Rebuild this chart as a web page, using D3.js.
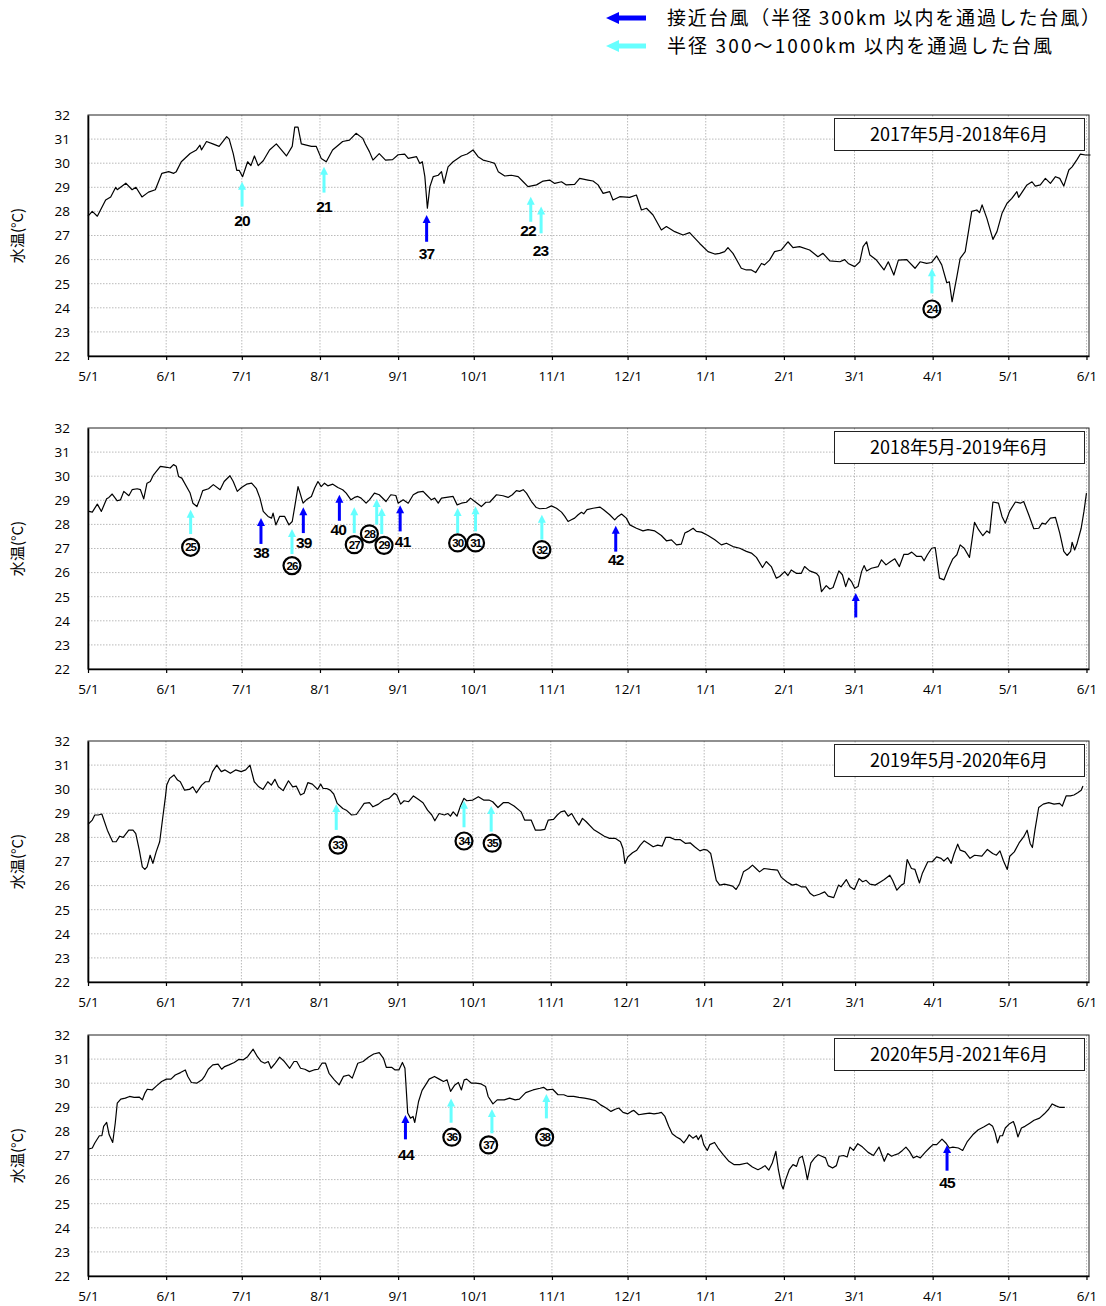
<!DOCTYPE html>
<html><head><meta charset="utf-8">
<script src="https://cdn.jsdelivr.net/npm/d3@7"></script>
<style>body{margin:0;background:#fff}</style>
</head><body>
<svg id="c" width="1106" height="1306" xmlns="http://www.w3.org/2000/svg"></svg>
<script>
// ---------------- data ----------------
const panelTitles = ["2017年5月-2018年6月", "2018年5月-2019年6月", "2019年5月-2020年6月", "2020年5月-2021年6月"];
const startYears = [2017, 2018, 2019, 2020];
const yTicks = [22, 23, 24, 25, 26, 27, 28, 29, 30, 31, 32];
const legendLabels = ["接近台風（半径 300km 以内を通過した台風）", "半径 300〜1000km 以内を通過した台風"];
const yTitle = "水温(°C)";

// day offsets from 5/1 and water temperature (°C)
const days1 = [0,1.7,3.7,7,9,11,11.6,15,17.5,19,21.4,24,26.7,29.3,32,34,35,37,40.5,43,44.4,45,47,49.5,52,55,56,57.6,59,60,61.3,63.3,64.6,66,67.5,69.5,72,74.7,78.7,81,82,83.3,84.6,86.6,88.6,90.5,92.5,94.5,97,101,103.7,106.3,109,110,111.6,113,115.5,118,120.8,123,125.6,127,130.3,131.6,132.6,133.6,134.6,135.6,136.9,138.9,140.2,141.2,142.8,144.8,148.1,150.4,152.7,154.7,156.7,159.3,161.3,162.7,165.3,167.9,170.6,172.6,174.5,177.9,180.5,183.1,185.1,187.8,189.7,193,195,198.3,200.3,202.3,204.3,206.9,208.2,210.9,214.8,217.5,219.5,221.5,224.1,227.4,229.4,232.7,236,238.6,242.6,245.9,248.6,250.5,252.5,253.8,255.8,259.1,261.1,263.1,264.8,267.1,268.3,270.3,272.3,275,277.6,279.6,282.2,286.2,289.5,291.5,294.2,298.2,300.1,301.5,304.1,306.1,307.4,308.8,310.1,312.7,315.7,317.4,319.6,321.4,324.7,328,330,332.6,334.6,336.6,338.6,340.6,341.6,342.7,344.6,345.9,347.9,350.5,352.5,353.6,354.6,356.5,358.9,360.5,362.5,364.5,366.4,368.4,369.1,372.4,374.4,375.7,377.7,379.7,381.7,383.7,385.4,387,389,390.3,392.3,393.6,395.6,397.6];
const temps1 = [27.8,28.0,27.8,28.47,28.6,29.0,28.9,29.17,28.9,29.0,28.6,28.8,28.9,29.58,29.65,29.58,29.65,30.06,30.4,30.55,30.75,30.55,30.9,30.8,30.7,31.1,31.0,30.4,29.7,29.7,29.44,30.06,29.9,30.3,29.9,30.1,30.55,30.8,30.3,30.7,31.5,31.5,30.8,30.75,30.7,30.7,30.2,30.06,30.55,30.9,30.96,31.24,31.03,30.8,30.48,30.13,30.4,30.13,30.15,30.35,30.38,30.2,30.27,29.99,30.06,29.44,28.13,29.03,29.44,29.5,29.65,29.16,29.85,30.06,30.3,30.38,30.55,30.27,30.13,30.06,29.99,29.65,29.47,29.5,29.44,29.23,29.03,29.1,29.26,29.3,29.16,29.23,29.1,29.12,29.37,29.3,29.26,29.1,28.75,28.82,28.47,28.61,28.58,28.68,28.06,28.13,27.85,27.23,27.37,27.16,27.02,27.12,26.67,26.33,26.23,26.26,26.33,26.5,26.26,25.64,25.57,25.57,25.46,25.84,25.78,25.98,26.33,26.4,26.74,26.5,26.54,26.4,26.12,26.26,25.95,25.91,26.0,25.84,25.71,25.91,26.54,26.74,26.19,25.98,25.57,25.91,25.36,25.98,26.0,25.64,25.91,25.84,25.88,26.15,25.78,25.04,25.08,24.25,25.29,26.05,26.33,28.0,28.06,27.95,28.27,27.71,26.84,27.16,27.92,28.34,28.54,28.82,28.58,29.1,29.23,29.05,29.1,29.37,29.16,29.44,29.37,29.05,29.72,29.85,30.16,30.38,30.34,30.34];

const days2 = [0.4,1.7,3.7,5.3,7.4,8.3,9.6,11.6,12.9,14.2,16.2,17.5,19.5,20.8,22.1,23.4,24.7,26,28.7,31.3,32.6,33.9,35,35.9,37.2,40.5,41.6,43.2,44.5,45.5,47.8,49.7,52.4,54,56.3,57.6,59.2,60.9,62.9,64.9,66.8,68.2,69.5,71.4,72.8,73.4,74.5,76,78,79.7,81,82,83.3,83.9,85.3,86.6,88.6,89.9,91.2,92.5,93.8,95.1,97.1,99.1,101,102.4,104.3,105.7,107,108.3,110.3,111.6,113.6,115.5,118.2,120.1,122.1,123,125,127,129,130.9,132.9,134.2,136.2,137.5,138.9,140.2,142.8,144.8,146.4,148.1,150.1,151.7,153.4,156,157.8,159.3,162,164.6,166.6,168.3,169.9,171.2,172.6,173.9,175.9,177.8,179.2,181.8,183.8,185.8,187.8,189.1,190.4,191.7,193,194.4,195.7,196.6,197.9,200.3,203,204.5,206.9,208.9,210.2,211.6,213.5,214.9,217.5,220.1,222.1,224.8,227.4,229.4,231.4,233.4,235.3,236.7,238,240,241.3,243.3,245.9,248.6,251.2,253.2,255.8,258.5,261.1,263.1,265.1,267.5,269,271,273,274.3,276.3,277.6,278.9,280.9,282.9,284.2,286.2,288.9,289.9,290.9,292.8,294.2,295.5,297.8,299.2,300.5,301.7,302.8,304.1,305.4,306.8,307.8,308.8,310.7,313.4,314.7,316.5,318.3,320,321.8,323.6,325.3,326.7,328.7,330.6,331.6,332.9,334.6,336,337.7,339.5,341.3,343,344.6,345.9,347.5,349.6,351.6,353.2,354.9,356.5,357.6,358.9,361.1,362.5,363.8,365.5,367.8,369.8,371.1,373.1,375.1,377.1,378.4,379.7,381.7,383.7,385.4,387,388.3,389.7,390.3,391.3,392.3,393.9,395,396];
const temps2 = [28.54,28.51,28.84,28.54,29.06,29.12,29.26,28.98,29.02,29.37,29.19,29.44,29.48,29.44,29.06,29.71,29.78,30.06,30.41,30.37,30.34,30.48,30.41,29.99,29.92,29.3,28.88,28.74,29.09,29.4,29.48,29.65,29.44,29.78,30.02,29.78,29.37,29.53,29.67,29.71,29.48,29.09,28.54,28.33,28.26,28.47,27.98,28.33,28.33,27.98,28.12,28.74,29.57,29.37,28.88,29.02,29.16,29.51,29.78,29.57,29.71,29.6,29.67,29.53,29.44,29.3,29.02,29.12,29.16,29.09,28.88,29.02,29.3,29.23,28.95,29.23,29.2,28.88,29.02,28.88,29.23,29.34,29.37,29.23,29.02,29.09,28.88,29.09,29.13,29.16,28.81,28.88,28.92,29.09,28.95,28.74,28.92,28.92,29.23,29.19,29.12,29.23,29.4,29.37,29.44,29.3,28.95,28.7,28.65,28.67,28.77,28.67,28.51,28.33,28.12,28.19,28.26,28.4,28.5,28.44,28.61,28.67,28.72,28.61,28.4,28.19,28.33,28.43,28.26,27.98,27.84,27.73,27.78,27.73,27.54,27.32,27.36,27.15,27.18,27.64,27.71,27.84,27.71,27.68,27.54,27.36,27.15,27.22,27.08,27.01,26.88,26.81,26.63,26.21,26.46,26.25,25.77,25.84,26.04,25.88,26.11,25.97,25.97,26.25,26.07,25.97,25.84,25.21,25.46,25.32,25.38,26.07,25.91,25.42,25.77,25.63,25.35,25.42,26.04,26.29,26.07,26.18,26.25,26.53,26.32,26.46,26.57,26.25,26.76,26.76,26.85,26.67,26.67,26.49,26.74,27.01,27.04,25.77,25.7,26.18,26.57,26.74,27.15,27.01,26.63,28.09,27.78,27.53,27.73,27.64,28.93,28.88,28.33,28.05,28.54,28.93,28.88,28.95,28.4,27.82,27.84,28.05,28.01,28.26,28.29,27.64,26.88,26.71,26.88,27.26,26.94,27.22,27.84,28.54,29.3];

const days3 = [0,1.7,2.7,4.1,5.5,7.7,9.8,11.2,12.6,14,16.2,17.9,19,20.4,21.6,22.6,23.5,24.7,25.8,27.1,28.5,29.6,30.8,31.3,32.5,34.2,35.6,36.7,38.4,40.3,41.7,43.1,45.2,46.7,48.1,49.5,51.2,53,54.5,56.6,58.7,60.9,62.7,64.4,66.1,67.9,69.6,71.5,72.9,74.3,75.7,77.6,79.7,81.4,82.8,84.5,85.9,87.4,89.2,91.3,92.5,93.5,94.9,96.3,97.7,99.1,101.3,102.7,104.8,106.7,108.4,109.8,111.9,113.3,115.5,117.6,119.7,121.8,122.8,124.3,125.7,127.5,129.4,131.3,133.2,135,136.7,137.9,139.6,141.7,143.1,144.1,145.2,146.7,148.1,149.5,150.6,153,155.2,157.3,159.4,160.9,163,165.1,167.2,169.4,172.2,173.6,176.2,177.9,180,181.6,183,185.1,186.6,188,189.5,190.9,192.3,193.8,195.2,196.6,198.1,201,203.1,205.3,207.4,209.6,211.7,212.7,213.5,214.6,216.5,218.2,219.6,221.1,222.8,224.7,226.5,228.3,229.7,231.4,233.3,235.4,237.6,239.5,241.2,243.3,244.8,246.2,247.6,248.7,249.8,251.2,253,254.8,256.3,257.7,259.1,260.6,262.7,264.2,265.6,267,268.8,271.4,274.2,275.7,277.8,280,281.7,283.6,285.4,287.2,288.6,290.8,292.9,294.3,296.5,298.4,299.4,301.5,303,304.7,306.6,308,309.4,310.9,313,315.2,316.6,318.8,319.9,321.6,323.4,324.5,325.7,327.4,328.8,330.6,331.7,333.9,335.7,337.4,339.2,340.3,341.8,343.2,344.3,345.8,346.8,348.7,350.7,352.5,355.4,357.6,359.7,361.2,362.6,364,365.5,366.5,368.3,370.2,372,373.4,374.6,375.5,376.5,378,379.8,382,384.1,386.3,387.4,388.9,390.6,392,393.5,394.9,395.6];
const temps3 = [28.54,28.72,28.93,28.93,28.97,28.3,27.82,27.82,28.05,28.0,28.3,28.3,28.16,27.47,26.78,26.67,26.78,27.26,26.92,27.4,27.82,28.72,29.69,30.17,30.45,30.59,30.38,30.31,29.96,29.99,30.1,29.85,30.17,30.31,30.31,30.73,31.0,30.73,30.8,30.66,30.8,30.73,30.8,31.0,30.31,30.1,29.99,30.31,30.17,30.41,30.1,29.94,30.35,30.1,30.13,29.76,29.83,30.27,30.21,29.99,30.21,30.03,30.03,29.96,29.8,29.41,29.2,29.13,28.93,28.95,29.2,29.41,29.44,29.27,29.38,29.55,29.62,29.83,29.76,29.38,29.52,29.48,29.72,29.58,29.44,29.13,28.93,28.69,28.99,28.93,28.99,28.88,29.06,28.88,29.3,29.62,29.52,29.55,29.69,29.55,29.55,29.48,29.24,29.44,29.44,29.3,29.06,28.72,28.72,28.3,28.3,28.33,28.72,28.75,28.93,29.06,29.1,28.88,28.99,28.72,28.51,28.79,28.65,28.33,28.19,28.05,27.96,27.96,27.82,27.54,26.92,27.19,27.36,27.47,27.68,27.86,27.75,27.61,27.68,27.64,28.0,28.0,27.91,27.91,27.75,27.77,27.61,27.44,27.5,27.47,27.33,26.78,26.22,26.02,26.06,26.02,25.98,25.84,26.09,26.57,26.71,26.85,26.71,26.57,26.71,26.67,26.64,26.34,26.16,26.02,26.06,25.95,25.95,25.67,25.57,25.64,25.74,25.56,25.5,26.02,25.95,26.25,25.95,25.84,26.29,26.16,26.22,26.06,26.02,26.16,26.25,26.43,26.22,25.81,26.02,26.09,27.08,26.71,26.67,26.11,26.5,26.99,26.99,27.19,27.13,27.02,27.16,26.92,27.3,27.72,27.47,27.4,27.13,27.26,27.22,27.5,27.33,27.26,27.44,27.02,26.67,27.22,27.4,27.77,28.02,28.3,27.75,27.58,28.3,29.24,29.38,29.44,29.38,29.41,29.3,29.72,29.72,29.76,29.85,29.96,30.13];

const days4 = [0.3,1.7,2.7,4.5,5.5,6.2,7.4,8.4,9.8,10.8,11.6,13,14.8,16.5,18.3,20.4,21.6,22.6,23.5,25.4,27.2,29.2,31.1,32.9,34.6,36.7,38.6,39.6,41,43.1,45.2,46.2,47.7,49.5,51.6,53,54.2,55.9,58,59.9,61.6,63.3,65.5,67.2,68.7,70.1,71.5,72.6,74.3,76,77.9,80,81.7,82.8,84.3,86,87.8,89.6,91.3,92.8,94.2,95.6,97.7,99.6,101.3,103.4,104.8,107,109.1,111.2,113.3,115.5,117.2,118.3,120.4,121.8,123.3,124.7,125.7,126.8,127.9,128.9,129.6,131.1,132.5,133.9,135.3,137.4,139.3,141,142.4,143.8,145.5,146.9,148.1,149.2,150.2,152.1,153.8,155.9,157.7,158.7,160.6,162.3,165.1,167.2,169.4,171.1,173.6,176.5,179.3,180.7,182.1,184.3,186.4,188.7,190.4,192.6,194.7,196.9,199,201.2,203.3,205.5,207.4,209.1,210.5,212.2,214.1,215.5,216.5,218.4,220.5,222.7,224.5,226.3,227.4,228.8,230.3,231.7,233.4,234.9,236.3,237.7,238.4,239.9,241.3,242,243.2,244.2,245.6,246.6,248.5,249.9,252,254.2,256.3,258.5,261.4,263.5,265.7,267.1,268.5,270,271.4,272.8,273.8,275,275.7,276.7,278.1,279.6,281,282.1,283.3,284.3,285.3,286.7,288.2,289.6,291,292.5,293.6,295.3,296.8,297.9,299.6,301.1,302.2,303.6,305.3,307.2,309.4,311.5,313.7,315.8,317.2,318.7,320.1,321.5,323,324.4,325.8,327.3,328.7,330.1,332,333.7,335.1,336.6,338.7,340.2,341.6,343,345.2,346.9,348.8,350.9,353.1,355.2,357.4,358.8,359.8,360.7,361.7,362.7,363.8,365.5,367,367.8,368.8,370.2,371.6,373.5,375.2,377.4,379.3,381,382.4,383.9,385.3,387.4];
const temps4 = [27.27,27.31,27.52,27.82,27.82,28.21,28.37,27.86,27.54,28.34,29.17,29.34,29.38,29.45,29.41,29.42,29.31,29.59,29.75,29.72,29.89,30.07,30.17,30.17,30.34,30.44,30.55,30.28,30.03,30.0,30.14,30.28,30.58,30.76,30.79,30.58,30.69,30.76,30.86,30.99,30.97,31.1,31.41,31.1,30.9,30.83,30.9,30.62,30.83,31.08,30.9,30.62,30.9,30.9,30.62,30.58,30.48,30.55,30.58,30.83,30.83,30.41,30.14,29.93,30.28,30.34,30.21,30.83,30.9,31.08,31.21,31.27,31.03,30.66,30.66,30.55,30.55,30.86,30.62,28.76,28.55,28.62,28.37,29.24,29.7,29.93,30.17,30.28,30.17,30.07,30.14,29.66,29.93,30.03,29.72,30.14,30.17,30.0,30.0,29.97,29.86,29.45,29.14,29.31,29.31,29.38,29.31,29.34,29.61,29.72,29.79,29.83,29.72,29.75,29.52,29.52,29.45,29.45,29.41,29.38,29.34,29.28,29.1,28.97,28.83,28.92,28.97,28.79,28.73,28.83,28.87,28.69,28.73,28.76,28.73,28.76,28.79,28.62,28.21,27.9,27.77,27.68,27.52,27.72,27.86,27.72,27.82,27.66,27.86,27.45,27.21,27.45,27.54,27.31,27.03,26.76,26.62,26.62,26.69,26.52,26.41,26.48,26.58,26.39,26.69,27.17,26.41,25.79,25.61,26.0,26.41,26.62,26.55,26.9,26.97,26.55,26.0,26.69,26.9,27.03,26.97,26.9,26.58,26.48,26.58,26.97,27.0,26.94,27.35,27.21,27.49,27.35,27.13,27.0,27.35,26.76,27.08,26.97,27.03,27.08,27.21,27.35,27.17,26.9,26.97,26.9,27.13,27.31,27.45,27.45,27.68,27.52,27.31,27.35,27.31,27.21,27.59,27.86,28.07,28.18,28.32,28.21,27.93,27.52,27.82,27.82,28.14,28.32,28.41,28.18,27.77,28.14,28.21,28.34,28.46,28.55,28.73,28.92,29.14,29.06,29.0,29.0];

// typhoon marks: day offset, arrow tip & tail temperature, near (blue) or not, label, circled, label position (day, temp)
const typhoons1 = [
  {d:61.1, tip:29.23, tail:28.2, near:false, label:"20", circled:false, ld:61.1, lt:27.62},
  {d:93.6, tip:29.85, tail:28.78, near:false, label:"21", circled:false, ld:93.6, lt:28.22},
  {d:134.3, tip:27.85, tail:26.74, near:true, label:"37", circled:false, ld:134.3, lt:26.26},
  {d:175.6, tip:28.61, tail:27.57, near:false, label:"22", circled:false, ld:174.5, lt:27.19},
  {d:179.7, tip:28.2, tail:27.09, near:false, label:"23", circled:false, ld:179.5, lt:26.37},
  {d:334.7, tip:25.64, tail:24.6, near:false, label:"24", circled:true, ld:334.7, lt:23.95}
];
const typhoons2 = [
  {d:40.7, tip:28.61, tail:27.6, near:false, label:"25", circled:true, ld:40.7, lt:27.05},
  {d:68.6, tip:28.27, tail:27.19, near:true, label:"38", circled:false, ld:68.6, lt:26.84},
  {d:80.9, tip:27.81, tail:26.77, near:false, label:"26", circled:true, ld:80.9, lt:26.29},
  {d:85.4, tip:28.71, tail:27.64, near:true, label:"39", circled:false, ld:85.6, lt:27.25},
  {d:99.7, tip:29.23, tail:28.15, near:true, label:"40", circled:false, ld:99.3, lt:27.78},
  {d:105.6, tip:28.71, tail:27.64, near:false, label:"27", circled:true, ld:105.6, lt:27.16},
  {d:114.5, tip:29.05, tail:27.99, near:false, label:"28", circled:true, ld:111.6, lt:27.61},
  {d:116.5, tip:28.68, tail:27.6, near:false, label:"29", circled:true, ld:117.4, lt:27.13},
  {d:123.8, tip:28.79, tail:27.71, near:true, label:"41", circled:false, ld:124.8, lt:27.29},
  {d:146.6, tip:28.68, tail:27.64, near:false, label:"30", circled:true, ld:146.6, lt:27.23},
  {d:153.7, tip:28.75, tail:27.71, near:false, label:"31", circled:true, ld:153.7, lt:27.23},
  {d:180, tip:28.4, tail:27.37, near:false, label:"32", circled:true, ld:180, lt:26.95},
  {d:209.3, tip:27.94, tail:26.87, near:true, label:"42", circled:false, ld:209.3, lt:26.54},
  {d:304.5, tip:25.15, tail:24.14, near:true, label:"", circled:false, ld:304.5, lt:24}
];
const typhoons3 = [
  {d:98.7, tip:29.39, tail:28.31, near:false, label:"33", circled:true, ld:99.4, lt:27.68},
  {d:149.5, tip:29.52, tail:28.42, near:false, label:"34", circled:true, ld:149.5, lt:27.85},
  {d:160.3, tip:29.3, tail:28.24, near:false, label:"35", circled:true, ld:160.7, lt:27.76}
];
const typhoons4 = [
  {d:125.9, tip:28.68, tail:27.67, near:true, label:"44", circled:false, ld:126.1, lt:27.06},
  {d:144, tip:29.37, tail:28.36, near:false, label:"36", circled:true, ld:144.3, lt:27.76},
  {d:160.2, tip:28.93, tail:27.92, near:false, label:"37", circled:true, ld:158.9, lt:27.44},
  {d:181.8, tip:29.55, tail:28.54, near:false, label:"38", circled:true, ld:181.1, lt:27.76},
  {d:340.7, tip:27.44, tail:26.37, near:true, label:"45", circled:false, ld:340.7, lt:25.87}
];

const allDays = [days1, days2, days3, days4];
const allTemps = [temps1, temps2, temps3, temps4];
const allTyphoons = [typhoons1, typhoons2, typhoons3, typhoons4];

// ---------------- drawing ----------------
const svg = d3.select("#c");
const BLUE = "#0000ff", CYAN = "#66ffff";
const left = 88, right = 1089, ph = 241;
const panelTops = [115, 428, 741, 1035];
const tickFont = "'Open Sans', 'Noto Sans', sans-serif";
const cjkFont = "'Noto Sans CJK JP', sans-serif";
const boldFont = "'Liberation Sans', Arial, sans-serif";

function drawArrow(g, x, yTip, yTail, color, hw, hl, sw) {
  g.append("line").attr("x1", x).attr("x2", x).attr("y1", yTail).attr("y2", yTip + hl - 1)
    .attr("stroke", color).attr("stroke-width", sw);
  g.append("path").attr("d", `M${x},${yTip}L${x - hw},${yTip + hl}L${x + hw},${yTip + hl}Z`).attr("fill", color);
}

// legend
[[BLUE, 18], [CYAN, 46]].forEach(([c, y], i) => {
  const g = svg.append("g");
  g.append("line").attr("x1", 617).attr("x2", 646).attr("y1", y).attr("y2", y).attr("stroke", c).attr("stroke-width", 5);
  g.append("path").attr("d", `M606,${y}L619,${y - 6}L619,${y + 6}Z`).attr("fill", c);
  g.append("text").attr("x", 667).attr("y", y + 7).attr("font-family", cjkFont).attr("font-size", 19)
    .attr("textLength", i === 0 ? 433 : 385).attr("lengthAdjust", "spacing")
    .attr("fill", "#000").text(legendLabels[i]);
});

panelTops.forEach((top, p) => {
  const start = new Date(startYears[p], 4, 1);
  const end = new Date(startYears[p] + 1, 5, 2);
  const x = d3.scaleTime().domain([start, end]).range([left, right]);
  const y = d3.scaleLinear().domain([22, 32]).range([top + ph, top]);
  const dayDate = d => new Date(start.getTime() + d * 864e5);
  const months = d3.timeMonth.range(start, new Date(startYears[p] + 1, 5, 1, 12));
  const g = svg.append("g");

  // grid
  g.append("g").selectAll("line").data(yTicks.slice(1, -1)).join("line")
    .attr("x1", left).attr("x2", right).attr("y1", d => y(d)).attr("y2", d => y(d))
    .attr("stroke", "#a8a8a8").attr("stroke-width", 0.8).attr("stroke-dasharray", "1.5,1.5");
  g.append("g").selectAll("line").data(months.slice(1)).join("line")
    .attr("x1", d => x(d)).attr("x2", d => x(d)).attr("y1", top).attr("y2", top + ph)
    .attr("stroke", "#a8a8a8").attr("stroke-width", 0.8).attr("stroke-dasharray", "1.5,1.5");

  // frame
  g.append("rect").attr("x", left).attr("y", top).attr("width", right - left).attr("height", ph)
    .attr("fill", "none").attr("stroke", "#222").attr("stroke-width", 1);

  // axes
  const xa = g.append("g").attr("transform", `translate(0,${top + ph})`)
    .call(d3.axisBottom(x).tickValues(months).tickFormat(d3.timeFormat("%-m/%-d")).tickSize(4).tickSizeOuter(0));
  xa.select(".domain").attr("stroke", "#000").attr("stroke-width", 1.6);
  xa.selectAll(".tick line").attr("stroke", "#000").attr("stroke-width", 1.2);
  xa.selectAll("text").attr("font-family", tickFont).attr("font-size", 13.5).attr("fill", "#000").attr("dy", "1.05em").attr("y", 11);

  const ya = g.append("g").attr("transform", `translate(${left},0)`)
    .call(d3.axisLeft(y).tickValues(yTicks).tickFormat(d3.format("d")).tickSize(0).tickPadding(18));
  ya.select(".domain").attr("stroke", "#000").attr("stroke-width", 1.6);
  ya.selectAll("text").attr("font-family", tickFont).attr("font-size", 13.5).attr("fill", "#000");

  // y title
  g.append("text").attr("transform", `translate(23,${top + ph / 2}) rotate(-90)`)
    .attr("text-anchor", "middle").attr("font-family", cjkFont).attr("font-size", 15).attr("fill", "#000").text(yTitle);

  // line
  const pts = allDays[p].map((d, i) => [dayDate(d), allTemps[p][i]]);
  g.append("path").datum(pts).attr("fill", "none").attr("stroke", "#000").attr("stroke-width", 1.2)
    .attr("stroke-linejoin", "round")
    .attr("d", d3.line().x(d => x(d[0])).y(d => y(d[1])));

  // title box
  g.append("rect").attr("x", 834.5).attr("y", top + 3.5).attr("width", 250).attr("height", 32)
    .attr("fill", "#fff").attr("stroke", "#222").attr("stroke-width", 1);
  g.append("text").attr("x", 959).attr("y", top + 26).attr("text-anchor", "middle")
    .attr("font-family", cjkFont).attr("font-size", 18).attr("fill", "#000").text(panelTitles[p]);

  // typhoon marks
  allTyphoons[p].forEach(t => {
    const ax = x(dayDate(t.d));
    drawArrow(g, ax, y(t.tip), y(t.tail), t.near ? BLUE : CYAN, 4, 8, 3);
    if (!t.label) return;
    const lx = x(dayDate(t.ld)), ly = y(t.lt);
    if (t.circled) {
      g.append("circle").attr("cx", lx).attr("cy", ly).attr("r", 8.5).attr("fill", "#fff")
        .attr("stroke", "#000").attr("stroke-width", 2.2);
      g.append("text").attr("x", lx).attr("y", ly + 4).attr("text-anchor", "middle")
        .attr("font-family", boldFont).attr("font-weight", "bold").attr("font-size", 11.5)
        .attr("letter-spacing", -1).attr("fill", "#000").text(t.label);
    } else {
      g.append("text").attr("x", lx).attr("y", ly + 5.5).attr("text-anchor", "middle")
        .attr("font-family", boldFont).attr("font-weight", "bold").attr("font-size", 15.5)
        .attr("letter-spacing", -0.8).attr("fill", "#000").text(t.label);
    }
  });
});
</script>
</body></html>
